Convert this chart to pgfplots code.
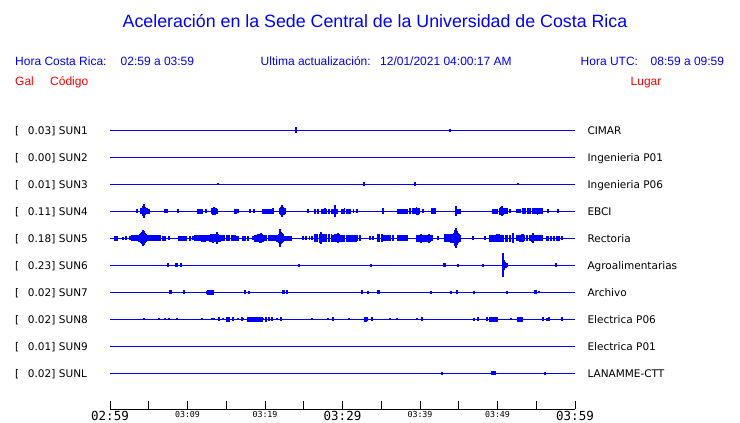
\documentclass[border=0pt]{standalone}
\usepackage{fontspec}
\setmainfont{Liberation Sans}
\newfontfamily\dv{DejaVu Sans}
\newfontfamily\dvm{DejaVu Sans Mono}
\usepackage{pgfplots}
\usepackage{pgfplotstable}
\pgfplotsset{compat=1.18}
\definecolor{tblue}{RGB}{0,0,255}
\definecolor{tred}{RGB}{255,0,0}

% spikes: t = minutes after 02:59, a = half amplitude (px)
\pgfplotstableread{
t a
24.00 3
43.87 1.5
}\sunone
\pgfplotstableread{
t a
13.94 1
32.77 2
39.35 2
52.65 1
}\sunthree
\pgfplotstableread{
t a
3.48 2
4.00 3
4.13 3
4.26 5
4.39 7
4.52 4
4.65 3
4.78 3
4.91 2.5
5.04 2.5
7.10 2
7.35 2
8.77 2
11.35 2.5
11.50 2.5
11.61 2.5
11.75 2.5
11.87 2.5
12.39 2
13.16 3
13.29 3.5
13.42 4
13.55 3.5
13.68 3
13.81 2.5
16.13 2.5
16.30 2.5
16.52 2
18.06 2
18.58 2
19.74 2.5
19.90 2.5
20.05 2.5
20.20 2.5
20.35 2.5
20.52 2.5
20.65 2.5
20.77 2.5
21.03 3
21.94 3
22.06 4
22.19 6
22.32 4
22.45 3.5
22.58 3
25.55 2
26.45 2.5
26.84 2.5
27.35 2.5
27.55 2.5
27.75 3
27.95 2.5
28.15 2.5
28.35 2.5
28.55 2.5
28.77 2.5
29.03 6
29.29 2.5
29.94 2.5
30.10 2.5
30.30 3
30.50 2.5
30.70 2.5
30.97 2.5
31.40 2
31.87 2
35.23 3
37.16 2.5
37.35 2.5
37.55 2.5
37.75 2.5
37.95 2.5
38.15 2.5
38.32 2.5
38.71 3
39.10 3
39.35 3
39.55 4
39.75 3.5
39.95 3
40.39 2
41.55 3
41.75 3
41.94 3
44.65 5
44.90 2.5
45.16 2.5
49.42 2.5
49.60 2.5
49.80 2.5
49.94 2.5
50.32 3.5
50.45 4
50.58 5
50.71 3.5
50.90 3
51.10 3
51.23 3
51.61 2
52.52 2
52.70 2
52.90 2
53.29 3
53.45 3
53.65 3
53.85 3
54.05 3
54.19 3
54.58 3
54.75 3
54.95 3
55.15 3.5
55.35 3
55.55 3
55.74 3
56.52 2
57.81 2
}\sunfour
\pgfplotstableread{
t a
0.65 2.5
0.78 2.5
0.90 2.5
1.68 1.5
2.06 2
2.58 2
2.84 3
3.00 3
3.15 3
3.30 3
3.45 3
3.60 3
3.75 3.5
3.87 4
4.00 5
4.13 6
4.26 8
4.39 7
4.52 5
4.65 4
4.78 3
4.91 3
5.05 3
5.20 3
5.35 3
5.50 3
5.65 3
5.81 3
5.95 3
6.10 3
6.25 3
6.45 3
6.84 2.5
7.10 2.5
7.61 2
8.90 2.5
9.16 2.5
9.40 2.5
9.60 2.5
9.80 2.5
10.32 2.5
10.71 2
10.97 3
11.15 3
11.35 3
11.50 3
11.61 3
11.87 3.5
12.05 3.5
12.25 3.5
12.45 3
12.65 3
12.85 3.5
13.05 4
13.16 4
13.29 4.5
13.42 4
13.60 4
13.81 6
13.94 4
14.06 3.5
14.19 3.5
14.45 3
14.60 3
14.80 3
15.00 3
15.20 3
15.35 3
15.74 3
15.90 3
16.13 3
16.39 2.5
16.52 2.5
17.16 2.5
17.42 2.5
17.81 2.5
18.45 2
18.71 3.5
18.90 3.5
19.10 4
19.30 4.5
19.48 5
19.61 4
19.74 3.5
19.90 3
20.13 3
20.52 3
20.65 3
20.77 3
20.90 3
21.10 3
21.30 3
21.55 3.5
21.75 4.5
21.94 9
22.06 6
22.19 5
22.32 4
22.58 2.5
22.84 2.5
23.10 2.5
23.35 2.5
24.90 2
25.30 2
25.70 2
26.06 2
26.45 4
26.60 4
26.80 4
27.00 4.5
27.23 6
27.35 4
27.55 4
27.75 4
27.95 4
28.15 4
28.35 4
28.55 4
28.77 3.5
29.03 4
29.29 4
29.42 5
29.55 4
29.68 3.5
29.94 3.5
30.10 3.5
30.30 3.5
30.50 3.5
30.70 3.5
30.97 3.5
31.15 3.5
31.35 3.5
31.55 3.5
31.75 3.5
31.95 3
32.15 3
32.35 3
33.55 2
33.94 2
34.58 4
34.80 4
35.10 4
35.23 3
35.40 3
35.60 3
35.80 3
36.00 3
36.20 3
36.52 3
37.16 3
37.35 3
37.55 3
37.75 3
37.95 3
38.15 3
38.32 3
39.61 3.5
39.80 3.5
40.00 3.5
40.13 4.5
40.30 3.5
40.50 3.5
40.70 3.5
40.90 3.5
41.16 4.5
41.35 3.5
41.55 3
42.32 2
43.23 4
43.40 4
43.60 4
43.80 4
44.00 4.5
44.20 4.5
44.40 5
44.52 8
44.65 10
44.77 7
44.90 5
45.03 4
45.16 3.5
46.84 2
48.39 2
49.03 3.5
49.20 3.5
49.42 3.5
49.60 3.5
49.80 3.5
49.94 4
50.06 4
50.20 4
50.40 3.5
50.60 3.5
50.80 3.5
51.00 3.5
51.23 3.5
51.61 3.5
52.00 5
52.52 3
52.70 3
52.90 3.5
53.16 4
53.29 4
53.50 3
53.70 3
53.90 3
54.19 3
54.45 3.5
54.58 5
54.84 3
55.00 3
55.20 3
55.35 3
55.55 3
55.74 3
56.39 2.5
56.60 2.5
56.80 2.5
57.00 2.5
57.20 2.5
57.40 2.5
57.60 2.5
57.80 2.5
58.00 2.5
58.32 2
}\sunfive
\pgfplotstableread{
t a
7.48 2
8.52 2
8.65 2
9.16 2
24.39 1.5
33.68 1.5
43.10 2
43.23 2
44.90 1.5
48.13 1.5
50.71 12
50.84 5
50.97 3
51.10 2.5
51.23 2
57.55 2
57.65 2
}\sunsix
\pgfplotstableread{
t a
7.74 2
7.87 2
9.55 2
12.47 1.5
12.65 2.5
12.80 2.5
12.95 2.5
13.10 2.5
13.29 2.5
17.42 2
17.94 1.5
22.32 2
22.45 2
22.84 2
32.52 2
33.29 1.5
34.58 2
34.71 2
41.42 1.5
44.00 1.5
44.77 2
46.97 1.5
51.23 1.5
54.84 2
54.97 2
55.35 1
}\sunseven
\pgfplotstableread{
t a
4.39 1
6.32 1
7.10 1
7.61 1
8.65 1
11.87 1
13.16 1
13.42 1
14.06 2
14.58 1
15.10 2.5
15.23 2.5
15.35 2.5
15.87 2
16.52 1
17.03 2
17.23 1
17.81 2.5
17.94 2.5
18.06 2.5
18.19 2.5
18.45 2.5
18.60 2.5
18.75 2.5
18.90 2.5
19.05 2.5
19.20 2.5
19.35 2.5
19.48 2.5
19.61 2.5
19.74 1
20.13 2.5
20.52 2
20.90 2
21.55 1
22.06 2
26.06 1
28.13 1
28.77 2
30.84 1
32.90 2.5
33.03 2.5
33.16 2
33.81 2
36.13 1
37.03 1
39.61 1
40.26 2
46.97 1.5
47.48 2
48.65 2
49.03 2.5
49.16 2.5
49.29 2.5
49.42 2.5
49.55 2.5
49.68 2.5
49.81 2.5
49.94 2.5
51.74 1
52.65 2.5
52.78 2.5
52.90 2.5
53.03 2.5
53.16 2.5
55.87 2
56.39 1.5
56.65 2
58.32 2
}\suneight
\pgfplotstableread{
t a
42.84 1.5
49.29 2
49.42 2
49.55 2
49.68 2
56.13 1.5
}\sunl

\pgfplotsset{
  spk/.style={only marks, mark=*, mark size=0pt, mark options={draw=none, fill=none}, forget plot,
    error bars/.cd, y dir=both, y explicit, error mark=none,
    error bar style={draw=tblue, line width=1.3pt}},
  base/.style={tblue, line width=1.1pt, forget plot}
}
\newcommand\bigt[1]{{\dvm\fontsize{12.5}{12.5}\selectfont #1}}
\newcommand\smt[1]{{\dvm\fontsize{8.3}{8.3}\selectfont #1}}

\begin{document}
\begin{tikzpicture}
\useasboundingbox (0,0) rectangle (740pt,423pt);
% header
\node[anchor=base, inner sep=0pt, text=tblue, font=\fontsize{17.8}{17.8}\selectfont] at (375pt,395pt) {Aceleración en la Sede Central de la Universidad de Costa Rica};
\begin{scope}[every node/.style={anchor=base west, inner sep=0pt, font=\fontsize{12}{12}\selectfont}]
\node[text=tblue] at (15pt,357.5pt) {Hora Costa Rica:};
\node[text=tblue] at (120.5pt,357.5pt) {02:59 a 03:59};
\node[text=tblue] at (260.5pt,357.5pt) {Ultima actualización:};
\node[text=tblue] at (380pt,357.5pt) {12/01/2021 04:00:17 AM};
\node[text=tblue] at (580.5pt,357.5pt) {Hora UTC:};
\node[text=tblue] at (650.5pt,357.5pt) {08:59 a 09:59};
\node[text=tred] at (15pt,337.5pt) {Gal};
\node[text=tred] at (50pt,337.5pt) {Código};
\node[text=tred] at (630.5pt,337.5pt) {Lugar};
\end{scope}
% row labels
\foreach \v/\c/\l [count=\i] in {0.03/SUN1/CIMAR, 0.00/SUN2/Ingenieria P01, 0.01/SUN3/Ingenieria P06, 0.11/SUN4/EBCI, 0.18/SUN5/Rectoria, 0.23/SUN6/Agroalimentarias, 0.02/SUN7/Archivo, 0.02/SUN8/Electrica P06, 0.01/SUN9/Electrica P01, 0.02/SUNL/LANAMME-CTT}{
  \pgfmathsetmacro\yb{292.5-27*(\i-1)-3.8}
  \begin{scope}[every node/.style={anchor=base west, inner sep=0pt, font=\dv\fontsize{10.5}{10.5}\selectfont}]
  \node at (15pt,\yb pt) {[};
  \node at (27.7pt,\yb pt) {\v]};
  \node at (58.7pt,\yb pt) {\c};
  \node at (587.3pt,\yb pt) {\l};
  \end{scope}
}
\begin{axis}[
  at={(110pt,14pt)}, anchor=south west,
  scale only axis, width=465pt, height=294pt,
  xmin=0, xmax=60, ymin=0, ymax=294, enlargelimits=false, clip=false,
  axis x line=bottom, axis y line=none,
  axis line style={-, black, line width=0.8pt},
  xtick={0,5,...,60},
  xticklabels={\bigt{02:59},{},\smt{03:09},{},\smt{03:19},{},\bigt{03:29},{},\smt{03:39},{},\smt{03:49},{},\bigt{03:59}},
  tick align=inside, major tick length=8pt,
  tick style={black, line width=0.8pt},
  xticklabel style={anchor=north, inner sep=0pt, yshift=-2pt},
]
\addplot[base] coordinates {(0,278.5)(60,278.5)};
\addplot[base] coordinates {(0,251.5)(60,251.5)};
\addplot[base] coordinates {(0,224.5)(60,224.5)};
\addplot[base] coordinates {(0,197.5)(60,197.5)};
\addplot[base] coordinates {(0,170.5)(60,170.5)};
\addplot[base] coordinates {(0,143.5)(60,143.5)};
\addplot[base] coordinates {(0,116.5)(60,116.5)};
\addplot[base] coordinates {(0,89.5)(60,89.5)};
\addplot[base] coordinates {(0,62.5)(60,62.5)};
\addplot[base] coordinates {(0,35.5)(60,35.5)};
\addplot[spk] table[x=t, y expr=278.5, y error=a] {\sunone};
\addplot[spk] table[x=t, y expr=224.5, y error=a] {\sunthree};
\addplot[spk] table[x=t, y expr=197.5, y error=a] {\sunfour};
\addplot[spk] table[x=t, y expr=170.5, y error=a] {\sunfive};
\addplot[spk] table[x=t, y expr=143.5, y error=a] {\sunsix};
\addplot[spk] table[x=t, y expr=116.5, y error=a] {\sunseven};
\addplot[spk] table[x=t, y expr=89.5, y error=a] {\suneight};
\addplot[spk] table[x=t, y expr=35.5, y error=a] {\sunl};
\end{axis}
\end{tikzpicture}
\end{document}
